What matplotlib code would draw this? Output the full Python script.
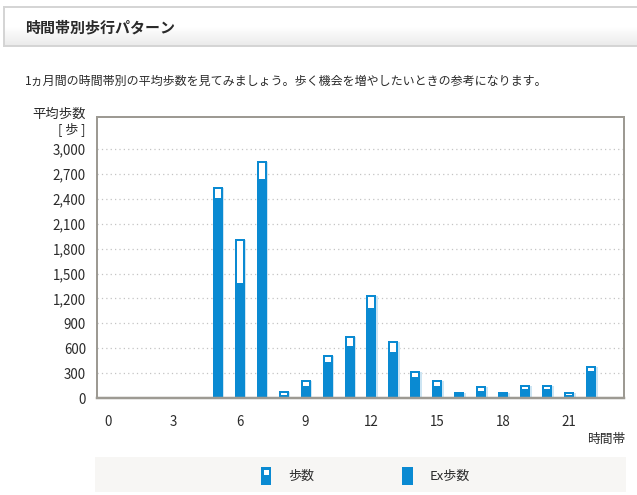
import matplotlib
matplotlib.use("Agg")
import matplotlib.pyplot as plt
import numpy as np
from matplotlib.patches import Rectangle

plt.rcParams['font.family'] = ['Noto Sans CJK JP', 'DejaVu Sans']

# ---- data ----
hours = list(range(24))
steps = [0, 0, 0, 0, 0, 2530, 1900, 2840, 70, 200, 510, 740, 1230, 670,
         310, 200, 55, 130, 55, 150, 150, 60, 370, 0]
ex_steps = [0, 0, 0, 0, 0, 2410, 1380, 2640, 40, 150, 430, 630, 1090, 550,
            250, 150, 50, 80, 50, 105, 105, 35, 320, 0]
y_ticks = list(range(0, 3001, 300))
x_ticks = [0, 3, 6, 9, 12, 15, 18, 21]
title = "時間帯別歩行パターン"
description = "1ヵ月間の時間帯別の平均歩数を見てみましょう。歩く機会を増やしたいときの参考になります。"
y_label_1 = "平均歩数"
y_label_2 = "[ 歩 ]"
x_label = "時間帯"
legend_labels = ["歩数", "Ex歩数"]

# ---- style ----
W, H = 637, 495
BLUE = "#0a8ad2"
SHADOW = "#cde5f3"
TEXT = "#2a2a2a"
SPINE = "#9d9a93"


def fx(px):
    return px / W


def fy(py):
    return 1 - py / H


fig = plt.figure(figsize=(W / 100, H / 100), dpi=100)
fig.patch.set_facecolor("white")

# header box with gradient
hx0, hy0, hx1, hy1 = 4, 7, 640, 46
hax = fig.add_axes([fx(hx0), fy(hy1), fx(hx1) - fx(hx0), fy(hy0) - fy(hy1)])
grad = np.concatenate([np.ones(20), np.linspace(1, 0.92, 20)])[:, None]
hax.imshow(np.dstack([grad, grad, grad]), aspect="auto", extent=[0, 1, 0, 1])
hax.set_xticks([])
hax.set_yticks([])
for s in hax.spines.values():
    s.set_color("#d4d4d4")
    s.set_linewidth(1.4)
hax.spines["right"].set_visible(False)

fig.text(fx(25), fy(27), title, fontsize=10.8, fontweight="bold",
         color=TEXT, va="center", ha="left")
fig.text(fx(25), fy(81), description, fontsize=8.65, color=TEXT,
         va="center", ha="left")

# main axes
ax_l, ax_r, ax_t, ax_b = 97, 624, 117, 398
ax = fig.add_axes([fx(ax_l), fy(ax_b), fx(ax_r) - fx(ax_l), fy(ax_t) - fy(ax_b)])
ax.set_xlim(-0.5, 23.5)
ax.set_ylim(0, 3386)

px_per_hour = (ax_r - ax_l) / 24.0
outer_w = 10 / px_per_hour
inner_w = 8 / px_per_hour
shadow_dx = 1.5 / px_per_hour
lw_pt = 2 * 0.72

tops = [max(s, e) for s, e in zip(steps, ex_steps)]
ax.bar([h + shadow_dx for h in hours], tops, width=outer_w, color=SHADOW,
       linewidth=0, zorder=2)
lws = [lw_pt if s > 0 else 0 for s in steps]
ax.bar(hours, steps, width=inner_w, facecolor="white", edgecolor=BLUE,
       linewidth=lws, zorder=3)
ax.bar(hours, ex_steps, width=outer_w, color=BLUE, linewidth=0, zorder=4)

ax.set_yticks(y_ticks)
ax.set_yticklabels([f"{v:,}" for v in y_ticks])
ax.set_xticks(x_ticks)
ax.set_xticklabels([str(v) for v in x_ticks])
ax.tick_params(axis="both", length=0, labelsize=9.6, colors=TEXT)
ax.tick_params(axis="y", pad=8)
ax.tick_params(axis="x", pad=12)

ax.yaxis.grid(True, linestyle=(0, (1, 2.5)), color="#c4c4c4", linewidth=0.9)
ax.set_axisbelow(True)
for s in ax.spines.values():
    s.set_color(SPINE)
    s.set_linewidth(2 * 0.72)
ax.spines["bottom"].set_linewidth(2.5 * 0.72)
ax.spines["bottom"].set_zorder(5)

fig.text(fx(86), fy(114), y_label_1, fontsize=9.6, color=TEXT,
         ha="right", va="center")
fig.text(fx(86), fy(129), y_label_2, fontsize=9.4, color=TEXT,
         ha="right", va="center")
fig.text(fx(625), fy(439), x_label, fontsize=9.2, color=TEXT,
         ha="right", va="center")

# legend box
lg = Rectangle((fx(95), fy(492)), fx(626) - fx(95), fy(457) - fy(492),
               transform=fig.transFigure, facecolor="#f7f6f4",
               edgecolor="none", zorder=0)
fig.patches.append(lg)

# icon 1: outlined
fig.patches.append(Rectangle((fx(261), fy(484.5)), fx(10), fy(0) - fy(18),
                             transform=fig.transFigure, facecolor=BLUE,
                             edgecolor="none", zorder=1))
fig.patches.append(Rectangle((fx(263.5), fy(475)), fx(5), fy(0) - fy(5.5),
                             transform=fig.transFigure, facecolor="white",
                             edgecolor="none", zorder=2))
fig.text(fx(288), fy(476), legend_labels[0], fontsize=9.4, color=TEXT,
         ha="left", va="center")
# icon 2: solid
fig.patches.append(Rectangle((fx(402), fy(484.5)), fx(10.5), fy(0) - fy(18),
                             transform=fig.transFigure, facecolor=BLUE,
                             edgecolor="none", zorder=1))
fig.text(fx(430), fy(476), legend_labels[1], fontsize=9.4, color=TEXT,
         ha="left", va="center")

fig.savefig("out.png", dpi=100, facecolor="white")
